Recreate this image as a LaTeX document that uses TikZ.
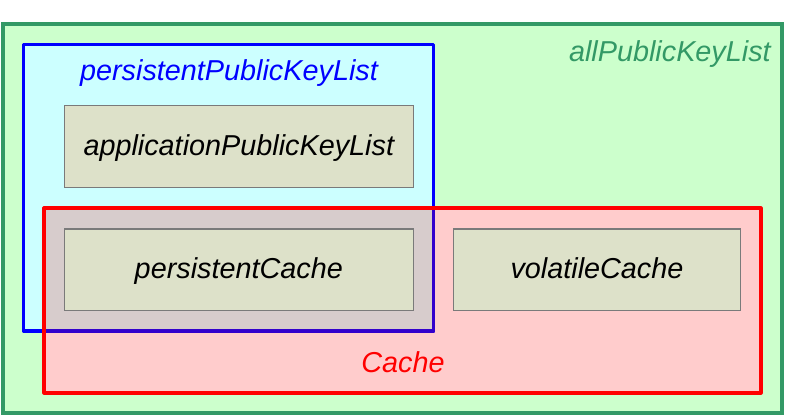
\documentclass[tikz,border=0pt]{standalone}
\usepackage{fontspec}
\setmainfont{Liberation Sans}
\definecolor{grnline}{HTML}{339966}
\definecolor{grnfill}{HTML}{CCFFCC}
\definecolor{cyanfill}{HTML}{CCFFFF}
\definecolor{pinkfill}{HTML}{FFCCCC}
\definecolor{overlapfill}{HTML}{D7CCCC}
\definecolor{bluedark}{HTML}{3300CC}
\definecolor{boxfill}{HTML}{DDE1C9}
\definecolor{boxline}{HTML}{7A7A7A}
\tikzset{
  bigfont/.style={font=\fontsize{21.6}{26}\selectfont\itshape},
  region/.style={line width=2.4pt},
  itembox/.style={draw=boxline, fill=boxfill, line width=0.9pt, bigfont,
    minimum height=61.4pt, text height=16.5pt, text depth=4pt, inner sep=0pt},
  label/.style={bigfont, anchor=base, inner sep=0pt}
}
\begin{document}
\begin{tikzpicture}[x=0.75pt,y=-0.75pt]
\useasboundingbox (0,0) rectangle (785,417);
% regions fills
\fill[grnfill] (3,24) rectangle (782,413);
\fill[cyanfill] (23.5,44.5) rectangle (433.5,331);
\fill[pinkfill] (44,208) rectangle (761,393);
\fill[overlapfill] (44,208) rectangle (433.5,331);
% outer border
\draw[region, draw=grnline] (3,24) rectangle (782,413);
% blue border
\draw[region, draw=blue, line join=round] (23.5,44.5) rectangle (433.5,331);
\begin{scope}
  \clip (44,208) rectangle (761,393);
  \draw[region, draw=bluedark, line join=round] (23.5,44.5) rectangle (433.5,331);
\end{scope}
% red border
\draw[region, draw=red, line join=round] (44,208) rectangle (761,393);
% labels
\node[label, anchor=base east, text=grnline] (allL) at (771,62) {allPublicKeyList};
\node[label, text=blue] (persL) at (229,81) {persistentPublicKeyList};
\node[label, text=red] (cacheL) at (403,372) {Cache};
% inner boxes
\node[itembox, minimum width=261.75pt] (app) at (238.8,146.8) {applicationPublicKeyList};
\node[itembox, minimum width=261.75pt] (pc) at (238.8,269.9) {persistentCache};
\node[itembox, minimum width=215.5pt] (vc) at (597,269.9) {volatileCache};
\end{tikzpicture}
\end{document}
